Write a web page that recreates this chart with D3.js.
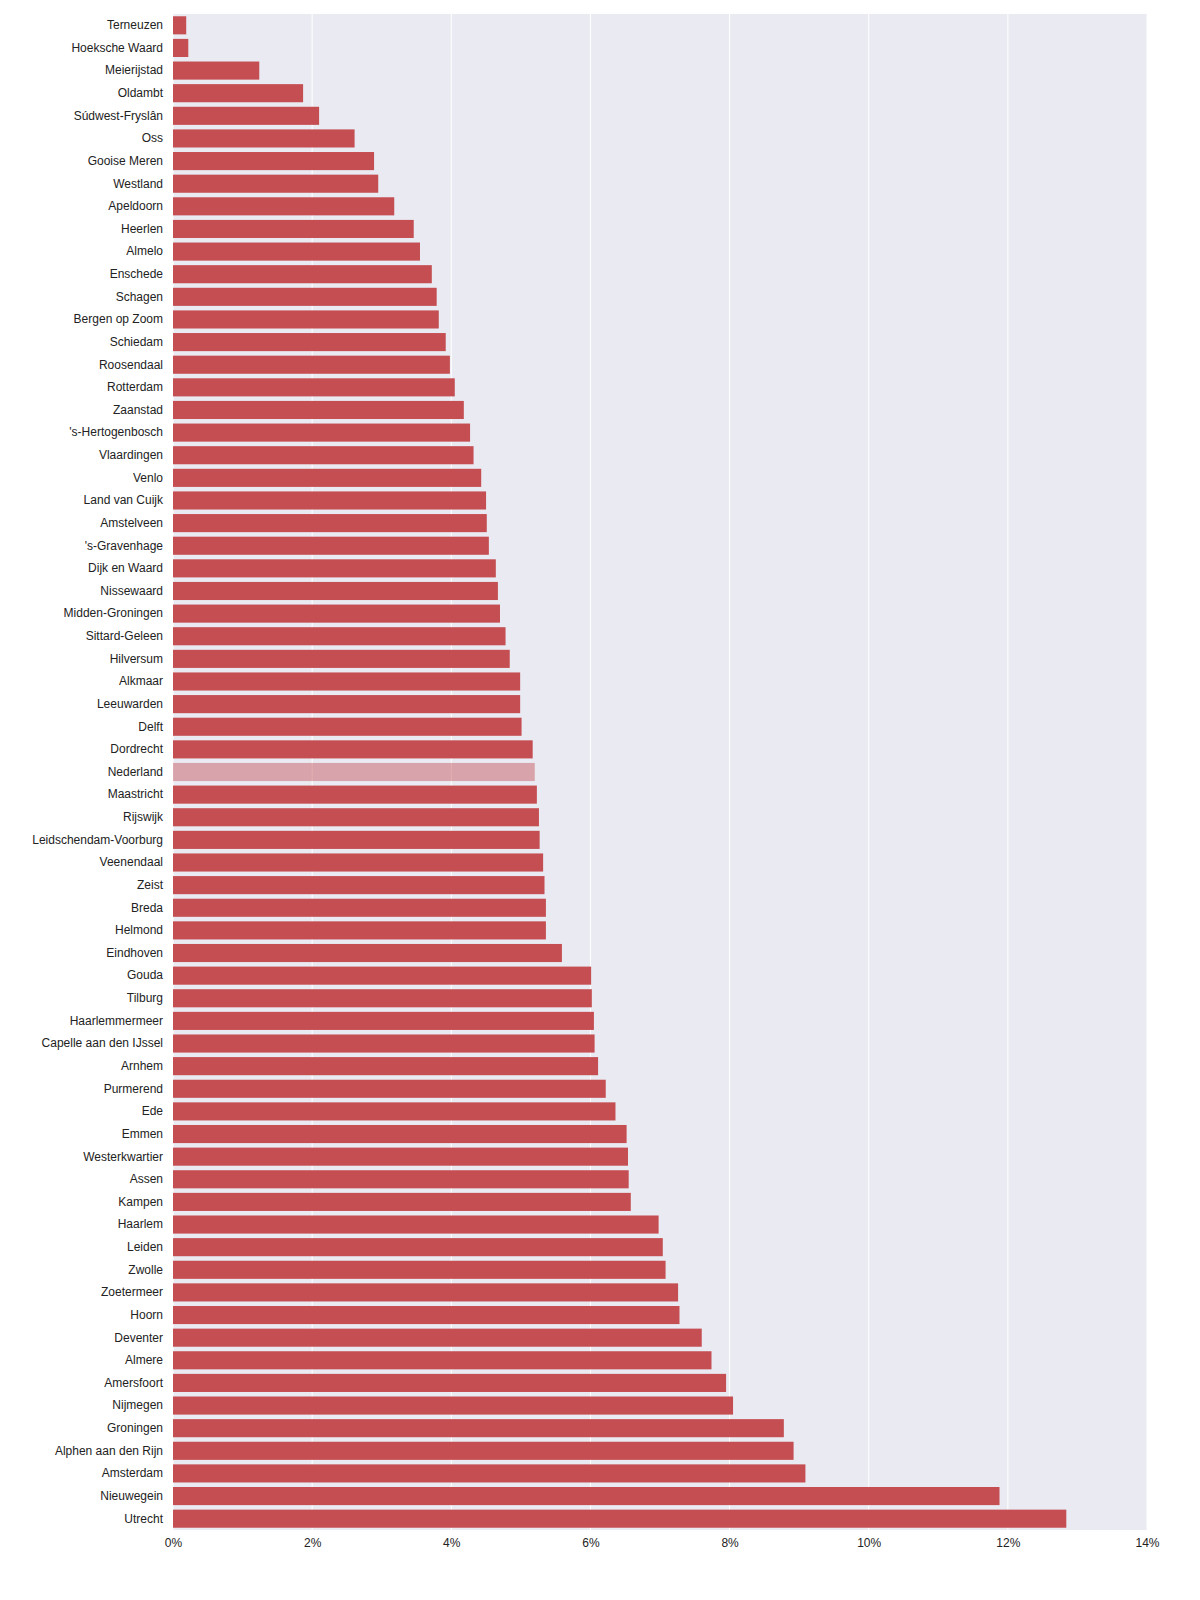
<!DOCTYPE html>
<html><head><meta charset="utf-8">
<script src="https://cdn.jsdelivr.net/npm/d3@7"></script>
<style>body{margin:0;background:#fff}text{font-family:"Liberation Sans",Arial,sans-serif}</style>
</head><body><div id="chart"></div>
<script>
var names = ["Terneuzen","Hoeksche Waard","Meierijstad","Oldambt","Súdwest-Fryslân","Oss","Gooise Meren","Westland","Apeldoorn","Heerlen","Almelo","Enschede","Schagen","Bergen op Zoom","Schiedam","Roosendaal","Rotterdam","Zaanstad","'s-Hertogenbosch","Vlaardingen","Venlo","Land van Cuijk","Amstelveen","'s-Gravenhage","Dijk en Waard","Nissewaard","Midden-Groningen","Sittard-Geleen","Hilversum","Alkmaar","Leeuwarden","Delft","Dordrecht","Nederland","Maastricht","Rijswijk","Leidschendam-Voorburg","Veenendaal","Zeist","Breda","Helmond","Eindhoven","Gouda","Tilburg","Haarlemmermeer","Capelle aan den IJssel","Arnhem","Purmerend","Ede","Emmen","Westerkwartier","Assen","Kampen","Haarlem","Leiden","Zwolle","Zoetermeer","Hoorn","Deventer","Almere","Amersfoort","Nijmegen","Groningen","Alphen aan den Rijn","Amsterdam","Nieuwegein","Utrecht"];
var values = [0.19,0.22,1.24,1.87,2.10,2.61,2.89,2.95,3.18,3.46,3.55,3.72,3.79,3.82,3.92,3.98,4.05,4.18,4.27,4.32,4.43,4.50,4.51,4.54,4.64,4.67,4.70,4.78,4.84,4.99,4.99,5.01,5.17,5.20,5.23,5.26,5.27,5.32,5.34,5.36,5.36,5.59,6.01,6.02,6.05,6.06,6.11,6.22,6.36,6.52,6.54,6.55,6.58,6.98,7.04,7.08,7.26,7.28,7.60,7.74,7.95,8.05,8.78,8.92,9.09,11.88,12.84];
var xTicks = [0,2,4,6,8,10,12,14];
var highlight = "Nederland";

var W = 1200, H = 1600, m = {l:173, r:53, t:14, b:70};
var svg = d3.select("#chart").append("svg").attr("width", W).attr("height", H);
var x = d3.scaleLinear().domain([0,14]).range([m.l, W-m.r]);
var y = d3.scaleBand().domain(names).range([m.t, H-m.b]).paddingInner(0.2).paddingOuter(0.1);

svg.append("rect").attr("x", m.l).attr("y", m.t).attr("width", W-m.r-m.l).attr("height", H-m.b-m.t).attr("fill", "#eaeaf2");
svg.selectAll(".grid").data(xTicks).enter().append("line")
  .attr("x1", function(d){return x(d);}).attr("x2", function(d){return x(d);})
  .attr("y1", m.t).attr("y2", H-m.b).attr("stroke", "#fff").attr("stroke-width", 1);

svg.selectAll(".bar").data(names).enter().append("rect")
  .attr("x", x(0)).attr("y", function(d){return y(d);})
  .attr("width", function(d,i){return x(values[i])-x(0);})
  .attr("height", y.bandwidth())
  .attr("fill", "#c44e52")
  .attr("fill-opacity", function(d){return d==highlight ? 0.45 : 1;});

var ya = svg.append("g").attr("transform", "translate(" + m.l + ",0)").call(d3.axisLeft(y).tickSize(0).tickPadding(10));
ya.select(".domain").remove();
ya.selectAll("text").attr("font-size", 12).attr("fill", "#222");

var xa = svg.append("g").attr("transform", "translate(0," + (H-m.b) + ")")
  .call(d3.axisBottom(x).tickValues(xTicks).tickSize(0).tickPadding(8).tickFormat(function(d){return d + "%";}));
xa.select(".domain").remove();
xa.selectAll("text").attr("font-size", 12).attr("fill", "#222");
</script></body></html>
